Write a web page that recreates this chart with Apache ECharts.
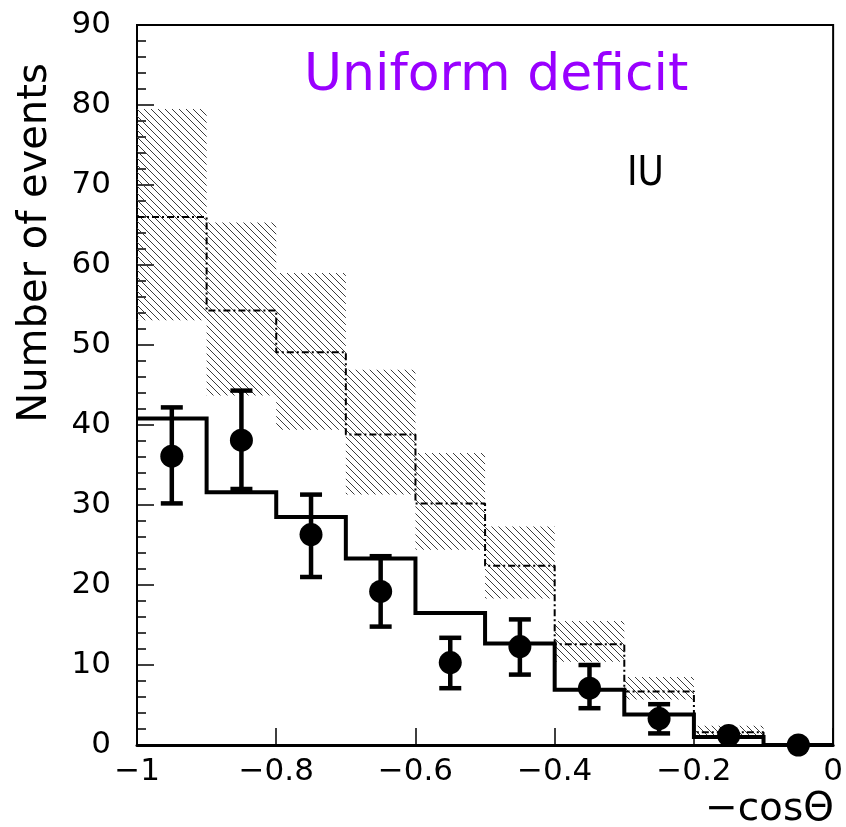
<!DOCTYPE html>
<html>
<head>
<meta charset="utf-8">
<script src="https://cdn.jsdelivr.net/npm/echarts@6/dist/echarts.min.js"></script>
<style>
  html, body { margin: 0; padding: 0; background: #fff; }
  #chart { width: 846px; height: 827px; }
</style>
</head>
<body>
<div id="chart"></div>
<script>
// Bin edges of the -cos(theta) histogram
const binEdges = [-1, -0.9, -0.8, -0.7, -0.6, -0.5, -0.4, -0.3, -0.2, -0.1, 0];
// Best-fit prediction (solid histogram)
const fitValues = [40.8, 31.6, 28.5, 23.3, 16.5, 12.7, 6.9, 3.8, 1.0, 0];
// No-oscillation expectation (dash-dot histogram) and its band
const expValues = [66.0, 54.3, 49.1, 38.8, 30.2, 22.4, 12.6, 6.7, 1.6, 0];
const expHigh = [79.5, 65.3, 59.0, 46.9, 36.5, 27.3, 15.5, 8.5, 2.4, 0];
const expLow = [53.1, 43.7, 39.4, 31.3, 24.4, 18.3, 10.4, 5.7, 1.0, 0];
// Observed events
const dataX = [-0.95, -0.85, -0.75, -0.65, -0.55, -0.45, -0.35, -0.25, -0.15, -0.05];
const dataY = [36.1, 38.1, 26.3, 19.2, 10.3, 12.3, 7.1, 3.3, 1.2, 0];
const dataErrHigh = [42.2, 44.3, 31.3, 23.6, 13.4, 15.7, 10.0, 5.1, 1.2, 0];
const dataErrLow = [30.2, 32.0, 21.0, 14.8, 7.1, 8.8, 4.6, 1.45, 1.2, 0];
// Axis ticks
const xTicks = { min: -1, max: 0, step: 0.2 };
const yTicks = { min: 0, max: 90, step: 10, minorStep: 2 };

const FONT = "'DejaVu Sans', 'Liberation Sans', sans-serif";

function staircase(values) {
  const pts = [];
  values.forEach((v, i) => {
    pts.push([binEdges[i], v]);
    pts.push([binEdges[i + 1], v]);
  });
  return pts;
}

function hatchPattern() {
  const s = 7;
  const c = document.createElement('canvas');
  c.width = s; c.height = s;
  const g = c.getContext('2d');
  g.strokeStyle = '#3c3c3c';
  g.lineWidth = 1;
  for (const k of [-s, 0, s]) {
    g.beginPath();
    g.moveTo(k - 1, -1);
    g.lineTo(k + s + 1, s + 1);
    g.stroke();
  }
  return { image: c, repeat: 'repeat' };
}
const hatch = hatchPattern();

const bandData = expLow.map((lo, i) => [binEdges[i], binEdges[i + 1], lo, expHigh[i]]);
const errData = dataX.map((x, i) => [x, dataErrLow[i], dataErrHigh[i]]);
const pointData = dataX.map((x, i) => [x, dataY[i]]);

const chart = echarts.init(document.getElementById('chart'), null, { renderer: 'canvas' });

const tickStyle = { color: '#000', width: 1.5 };

chart.setOption({
  animation: false,
  backgroundColor: '#ffffff',
  grid: {
    left: 137, right: 12, top: 25, bottom: 82,
    show: true, borderColor: '#000', borderWidth: 2, backgroundColor: 'transparent'
  },
  xAxis: {
    type: 'value',
    min: xTicks.min, max: xTicks.max, interval: xTicks.step,
    axisLine: { show: true, onZero: false, lineStyle: { color: '#000', width: 3 } },
    axisTick: { show: true, inside: true, length: 17, lineStyle: tickStyle },
    splitLine: { show: false },
    axisLabel: {
      color: '#000', fontFamily: FONT, fontSize: 31, margin: 11,
      formatter: v => (Math.abs(v) < 1e-9 ? '0' : String(+v.toFixed(1)).replace('-', '\u2212'))
    }
  },
  yAxis: [
    {
      // major ticks and labels
      type: 'value', position: 'left',
      min: yTicks.min, max: yTicks.max, interval: yTicks.step,
      axisLine: { show: true, onZero: false, lineStyle: { color: '#000', width: 2 } },
      axisTick: { show: true, inside: true, length: 17, lineStyle: tickStyle },
      splitLine: { show: false },
      axisLabel: { color: '#000', fontFamily: FONT, fontSize: 31, margin: 26 }
    },
    {
      // short ticks between the labelled ones
      type: 'value', position: 'left', offset: 0,
      min: yTicks.min, max: yTicks.max, interval: yTicks.minorStep,
      axisLine: { show: false, onZero: false },
      axisTick: { show: true, inside: true, length: 9, lineStyle: tickStyle },
      splitLine: { show: false },
      axisLabel: { show: false }
    }
  ],
  series: [
    {
      name: 'expected band',
      type: 'custom',
      z: 1,
      data: bandData,
      encode: { x: [0, 1], y: [2, 3] },
      renderItem: (params, api) => {
        const a = api.coord([api.value(0), api.value(3)]);
        const b = api.coord([api.value(1), api.value(2)]);
        return {
          type: 'rect',
          shape: { x: a[0], y: a[1], width: b[0] - a[0], height: b[1] - a[1] },
          style: { fill: hatch }
        };
      }
    },
    {
      name: 'expected',
      type: 'line',
      z: 2,
      data: staircase(expValues),
      symbol: 'none',
      lineStyle: { color: '#000', width: 2, type: [7, 3, 2, 3] }
    },
    {
      name: 'best fit',
      type: 'line',
      z: 3,
      data: staircase(fitValues),
      symbol: 'none',
      lineStyle: { color: '#000', width: 4, join: 'miter' }
    },
    {
      name: 'errors',
      type: 'custom',
      z: 4,
      data: errData,
      encode: { x: 0, y: [1, 2] },
      renderItem: (params, api) => {
        const lo = api.coord([api.value(0), api.value(1)]);
        const hi = api.coord([api.value(0), api.value(2)]);
        const hw = 11;
        const st = { stroke: '#000', lineWidth: 4.5 };
        return {
          type: 'group',
          children: [
            { type: 'line', shape: { x1: lo[0], y1: lo[1], x2: hi[0], y2: hi[1] }, style: st },
            { type: 'line', shape: { x1: hi[0] - hw, y1: hi[1], x2: hi[0] + hw, y2: hi[1] }, style: st },
            { type: 'line', shape: { x1: lo[0] - hw, y1: lo[1], x2: lo[0] + hw, y2: lo[1] }, style: st }
          ]
        };
      }
    },
    {
      name: 'data',
      type: 'scatter',
      z: 5,
      data: pointData,
      symbol: 'circle',
      symbolSize: 23,
      itemStyle: { color: '#000', opacity: 1 },
      clip: false
    }
  ],
  graphic: [
    {
      type: 'text', x: 304, y: 76, z: 10,
      style: { text: 'Uniform deficit', fill: '#9900ff', align: 'left', verticalAlign: 'middle',
        font: "52px 'DejaVu Sans', sans-serif" }
    },
    {
      type: 'text', x: 627, y: 175, z: 10,
      style: { text: 'IU', fill: '#000', align: 'left', verticalAlign: 'middle',
        font: "40px 'DejaVu Sans Condensed', 'DejaVu Sans', sans-serif" }
    },
    {
      type: 'text', x: 36, y: 243, rotation: Math.PI / 2, z: 10,
      style: { text: 'Number of events', fill: '#000', align: 'center', verticalAlign: 'middle',
        font: "40px 'DejaVu Sans', sans-serif" }
    },
    {
      type: 'text', x: 834, y: 810, z: 10,
      style: { text: '\u2212cos\u0398', fill: '#000', align: 'right', verticalAlign: 'middle',
        font: "39px 'DejaVu Sans', sans-serif" }
    }
  ]
});
</script>
</body>
</html>
